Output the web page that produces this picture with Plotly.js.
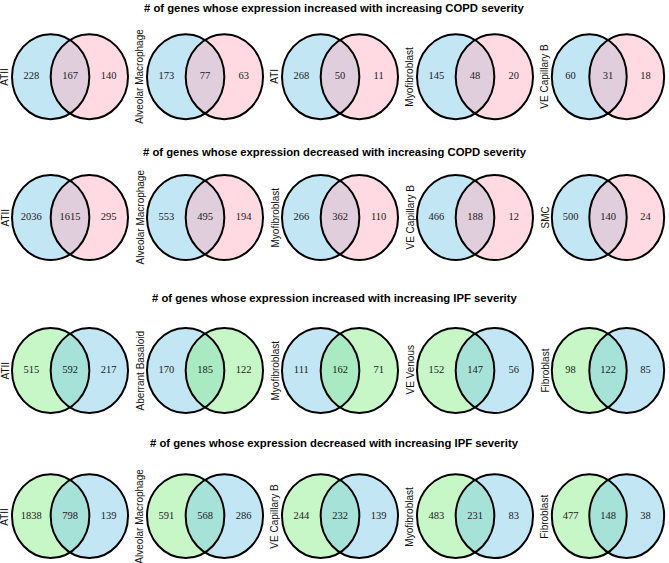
<!DOCTYPE html>
<html>
<head>
<meta charset="utf-8">
<script src="https://cdn.plot.ly/plotly-3.0.1.min.js"></script>
<style>html,body{margin:0;padding:0;background:#fff;}#chart{width:669px;height:563px;}</style>
</head>
<body>
<div id="chart"></div>
<script>
// ---- data ----
const rowTitles = [
  "# of genes whose expression increased with increasing COPD severity",
  "# of genes whose expression decreased with increasing COPD severity",
  "# of genes whose expression increased with increasing IPF severity",
  "# of genes whose expression decreased with increasing IPF severity"
];
const rowLabels = [
  ["ATII", "Alveolar Macrophage", "ATI", "Myofibroblast", "VE Capillary B"],
  ["ATII", "Alveolar Macrophage", "Myofibroblast", "VE Capillary B", "SMC"],
  ["ATII", "Aberrant Basaloid", "Myofibroblast", "VE Venous", "Fibroblast"],
  ["ATII", "Alveolar Macrophage", "VE Capillary B", "Myofibroblast", "Fibroblast"]
];
const leftOnly = [
  [228, 173, 268, 145, 60],
  [2036, 553, 266, 466, 500],
  [515, 170, 111, 152, 98],
  [1838, 591, 244, 483, 477]
];
const bothSets = [
  [167, 77, 50, 48, 31],
  [1615, 495, 362, 188, 140],
  [592, 185, 162, 147, 122],
  [798, 568, 232, 231, 148]
];
const rightOnly = [
  [140, 63, 11, 20, 18],
  [295, 194, 110, 12, 24],
  [217, 122, 71, 56, 85],
  [139, 286, 139, 83, 38]
];

// ---- styles ----
const BLUE = "rgba(135,206,235,0.5)";
const PINK = "rgba(255,181,197,0.5)";
const GREEN = "rgba(144,238,144,0.5)";
const circleColors = [
  [[BLUE, PINK], [BLUE, PINK], [BLUE, PINK], [BLUE, PINK], [BLUE, PINK]],
  [[BLUE, PINK], [BLUE, PINK], [BLUE, PINK], [BLUE, PINK], [BLUE, PINK]],
  [[GREEN, BLUE], [BLUE, GREEN], [BLUE, GREEN], [GREEN, BLUE], [GREEN, BLUE]],
  [[GREEN, BLUE], [GREEN, BLUE], [GREEN, BLUE], [GREEN, BLUE], [GREEN, BLUE]]
];

// ---- geometry (pixels) ----
const PW = 669, PH = 563;
const colLeft = [12, 147, 282, 417, 552];
const rowCy = [76.7, 217.5, 370.5, 516.7];
const titleY = [8, 152, 298, 443];
const sx = 38.67, sy = 42.5, pad = 5;

const layout = {
  width: PW, height: PH,
  margin: {l: 0, r: 0, t: 0, b: 0},
  paper_bgcolor: "#fff", plot_bgcolor: "rgba(0,0,0,0)",
  showlegend: false,
  shapes: [], annotations: []
};
const traces = [];
const outlines = [];

for (let r = 0; r < 4; r++) {
  layout.annotations.push({
    xref: "paper", yref: "paper", x: 0.5, y: 1 - titleY[r] / PH,
    xanchor: "center", yanchor: "middle", showarrow: false,
    text: "<b>" + rowTitles[r] + "</b>",
    font: {family: "Liberation Sans, Arial, sans-serif", size: 11.3, color: "#000"}
  });
  for (let c = 0; c < 5; c++) {
    const k = r * 5 + c + 1;
    const xs = k === 1 ? "" : String(k);
    const L = colLeft[c], cy = rowCy[r];
    const W = 3 * sx;
    layout["xaxis" + xs] = {
      domain: [(L - pad) / PW, (L + W + pad) / PW],
      range: [-1.5 - pad / sx, 1.5 + pad / sx],
      visible: false, fixedrange: true, anchor: "y" + xs
    };
    layout["yaxis" + xs] = {
      domain: [1 - (cy + sy + pad) / PH, 1 - (cy - sy - pad) / PH],
      range: [-1 - pad / sy, 1 + pad / sy],
      visible: false, fixedrange: true, anchor: "x" + xs
    };
    const centers = [-0.5, 0.5];
    centers.forEach((cx, i) => {
      layout.shapes.push({
        type: "circle", xref: "x" + xs, yref: "y" + xs, layer: "below",
        x0: cx - 1, x1: cx + 1, y0: -1, y1: 1,
        fillcolor: circleColors[r][c][i], line: {width: 0}
      });
      outlines.push({
        type: "circle", xref: "x" + xs, yref: "y" + xs, layer: "below",
        x0: cx - 1, x1: cx + 1, y0: -1, y1: 1,
        fillcolor: "rgba(0,0,0,0)", line: {color: "#000", width: 2}
      });
    });
    traces.push({
      type: "scatter", mode: "text",
      xaxis: "x" + xs, yaxis: "y" + xs,
      x: [-1, 0, 1], y: [0, 0, 0],
      text: [leftOnly[r][c], bothSets[r][c], rightOnly[r][c]].map(String),
      textposition: "middle center",
      textfont: {family: "Liberation Serif", size: 10.5, color: "#1a1a1a"},
      hoverinfo: "skip", cliponaxis: false
    });
    layout.annotations.push({
      xref: "paper", yref: "paper", x: (L - 7) / PW, y: 1 - cy / PH,
      xanchor: "center", yanchor: "middle", showarrow: false, textangle: -90,
      text: rowLabels[r][c],
      font: {family: "Liberation Sans, Arial, sans-serif", size: 10, color: "#111"}
    });
  }
}
layout.shapes = layout.shapes.concat(outlines);

Plotly.newPlot("chart", traces, layout, {displayModeBar: false, staticPlot: true});
</script>
</body>
</html>
